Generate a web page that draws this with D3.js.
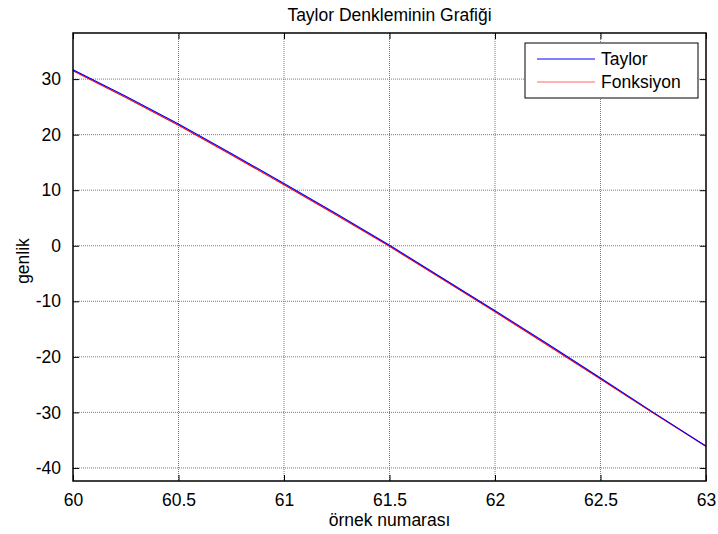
<!DOCTYPE html>
<html>
<head>
<meta charset="utf-8">
<script src="https://cdn.jsdelivr.net/npm/d3@7"></script>
<style>
  body { margin: 0; background: #fff; }
  svg { display: block; font-family: "Liberation Sans", Arial, sans-serif; }
  .grid line { stroke: #7a7a7a; stroke-dasharray: 1,1; stroke-width: 1; }
</style>
</head>
<body>
<svg id="chart" width="718" height="534"></svg>
<script>
// sample positions and the two curves
const sampleX = [60, 60.25, 60.5, 60.75, 61, 61.25, 61.5, 61.75, 62, 62.25, 62.5, 62.75, 63];
const taylorY = [31.7, 26.9, 21.9, 16.6, 11.2, 5.7, 0.1, -5.8, -11.7, -17.7, -23.8, -30.0, -36.1];
const funcY   = [31.5, 26.7, 21.7, 16.4, 11.0, 5.5, -0.1, -6.0, -11.9, -17.9, -24.0, -30.1, -36.1];

const xTicks = [60, 60.5, 61, 61.5, 62, 62.5, 63];
const yTicks = [30, 20, 10, 0, -10, -20, -30, -40];
const seriesNames = ["Taylor", "Fonksiyon"];
const seriesColors = ["#0000ff", "#ff0000"];

const titleText = "Taylor Denkleminin Grafiği";
const xLabel = "örnek numarası";
const yLabel = "genlik";

const margin = { left: 73, right: 12, top: 33, bottom: 53 };
const W = 718, H = 534;
const iw = W - margin.left - margin.right;
const ih = H - margin.top - margin.bottom;
const FS = 17.5;

const svg = d3.select("#chart");
const g = svg.append("g").attr("transform", `translate(${margin.left},${margin.top})`);

const x = d3.scaleLinear().domain([60, 63]).range([0, iw]);
const y = d3.scaleLinear().domain([-42.35, 38.3]).range([ih, 0]);

// grid (dotted, like MATLAB's grid on)
const grid = g.append("g").attr("class", "grid");
grid.selectAll(".gx").data(xTicks.slice(1, -1)).join("line")
  .attr("x1", d => x(d)).attr("x2", d => x(d)).attr("y1", 0).attr("y2", ih);
grid.selectAll(".gy").data(yTicks).join("line")
  .attr("x1", 0).attr("x2", iw).attr("y1", d => y(d)).attr("y2", d => y(d));

// data lines: red under, blue on top
const line = (ys) => d3.line().x((d, i) => x(sampleX[i])).y(d => y(d))(ys);
g.append("path").attr("d", line(funcY)).attr("fill", "none")
  .attr("stroke", seriesColors[1]).attr("stroke-width", 1.2);
g.append("path").attr("d", line(taylorY)).attr("fill", "none")
  .attr("stroke", seriesColors[0]).attr("stroke-width", 1.1);

// axes: ticks pointing in, on all four sides
const tl = 6;
const fmt = d => String(d);
g.append("g").attr("transform", `translate(0,${ih})`)
  .call(d3.axisBottom(x).tickValues(xTicks).tickSize(-tl).tickPadding(13).tickFormat(fmt))
  .call(a => a.select(".domain").remove());
g.append("g")
  .call(d3.axisTop(x).tickValues(xTicks).tickSize(-tl).tickFormat(""))
  .call(a => a.select(".domain").remove());
g.append("g")
  .call(d3.axisLeft(y).tickValues(yTicks).tickSize(-tl).tickPadding(12).tickFormat(fmt))
  .call(a => a.select(".domain").remove());
g.append("g").attr("transform", `translate(${iw},0)`)
  .call(d3.axisRight(y).tickValues(yTicks).tickSize(-tl).tickFormat(""))
  .call(a => a.select(".domain").remove());
g.selectAll(".tick line").attr("stroke", "#000");
g.selectAll(".tick text").attr("font-size", FS).attr("font-family", "Liberation Sans, Arial, sans-serif").attr("fill", "#000");

g.append("rect").attr("width", iw).attr("height", ih)
  .attr("fill", "none").attr("stroke", "#000").attr("stroke-width", 1.5);

// title and labels
svg.append("text").attr("x", margin.left + iw / 2).attr("y", 21)
  .attr("text-anchor", "middle").attr("font-size", FS).text(titleText);
svg.append("text").attr("x", margin.left + iw / 2).attr("y", 526)
  .attr("text-anchor", "middle").attr("font-size", FS).text(xLabel);
svg.append("text").attr("transform", "translate(29,261) rotate(-90)")
  .attr("text-anchor", "middle").attr("font-size", FS).text(yLabel);

// legend
const lg = svg.append("g").attr("transform", "translate(525,43)");
lg.append("rect").attr("width", 173).attr("height", 55)
  .attr("fill", "#fff").attr("stroke", "#000").attr("stroke-width", 1);
seriesNames.forEach((name, i) => {
  const cy = 16 + i * 23;
  lg.append("line").attr("x1", 12).attr("x2", 70).attr("y1", cy).attr("y2", cy)
    .attr("stroke", seriesColors[i]).attr("stroke-width", 1).attr("stroke-opacity", i ? 0.6 : 1);
  lg.append("text").attr("x", 76).attr("y", cy).attr("dy", "0.35em")
    .attr("font-size", FS).text(name);
});
</script>
</body>
</html>
